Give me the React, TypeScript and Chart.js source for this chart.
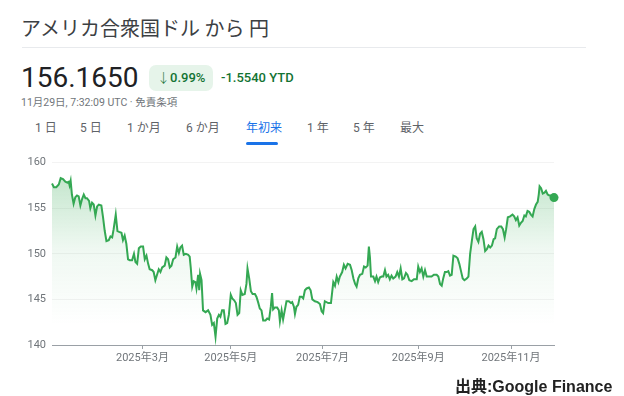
import React, { useEffect, useRef } from "react";
import { Chart, registerables } from "chart.js";

Chart.register(...registerables);

// trading-session index since 2 Jan 2025 (approximate)
const sessionIdx = [
  0.0, 0.9, 2.0, 3.2, 4.1, 5.2, 6.3, 7.2, 7.9, 8.3, 8.8, 9.4, 10.2, 11.0, 11.8, 12.6, 13.4, 14.2, 15.0, 15.8,
  16.5, 17.5, 18.1, 18.9, 19.7, 20.5, 21.3, 22.1, 23.3, 24.1, 24.9, 25.7, 26.8, 27.6, 28.4, 29.1, 30.1, 30.9, 31.7, 32.8,
  33.5, 34.3, 35.1, 35.9, 36.7, 37.8, 38.7, 39.4, 40.2, 41.0, 41.9, 43.0, 43.8, 44.6, 45.4, 46.1, 47.3, 48.0, 48.8, 49.6,
  50.4, 51.2, 52.0, 53.2, 54.0, 54.8, 55.6, 56.4, 57.2, 58.3, 59.1, 59.9, 60.6, 61.4, 62.2, 63.2, 64.3, 65.0, 65.5, 66.2,
  66.9, 67.7, 68.2, 69.0, 69.5, 69.9, 70.6, 71.3, 72.5, 73.7, 74.8, 75.6, 76.4, 77.2, 78.0, 78.8, 79.5, 80.3, 81.1, 81.9,
  82.7, 83.5, 84.4, 85.1, 86.0, 86.8, 87.6, 88.4, 89.1, 89.9, 91.0, 91.8, 92.3, 93.1, 93.9, 94.7, 95.8, 96.5, 97.3, 98.1,
  98.9, 99.7, 100.8, 101.6, 102.5, 103.3, 103.9, 104.4, 105.2, 106.3, 107.1, 107.6, 108.4, 109.1, 109.9, 110.7, 111.8, 112.8, 113.4, 114.2,
  114.7, 115.4, 116.2, 117.0, 117.8, 118.6, 119.4, 120.2, 121.3, 122.1, 122.9, 124.1, 125.4, 126.5, 127.3, 128.0, 128.8, 130.4, 131.7, 132.8,
  133.6, 134.4, 135.2, 135.9, 137.0, 137.8, 138.6, 139.6, 140.7, 141.5, 142.3, 143.1, 143.8, 144.6, 145.4, 146.5, 147.3, 148.1, 149.0, 149.6,
  150.1, 150.6, 151.7, 152.5, 153.2, 154.0, 154.8, 155.6, 156.4, 157.2, 157.9, 158.7, 159.5, 160.3, 161.1, 162.2, 163.0, 163.8, 164.6, 165.4,
  166.2, 167.1, 167.8, 168.7, 169.8, 170.9, 172.2, 172.9, 173.7, 174.5, 175.3, 176.1, 176.9, 177.7, 179.2, 180.3, 181.6, 182.4, 183.2, 184.0,
  184.7, 185.5, 186.3, 187.1, 187.9, 188.7, 189.5, 190.6, 191.5, 192.3, 193.1, 193.9, 194.7, 195.8, 196.6, 197.4, 198.2, 199.0, 199.8, 200.5,
  201.3, 202.1, 202.9, 203.7, 204.5, 205.3, 206.1, 206.9, 207.7, 208.5, 209.2, 210.0, 211.1, 212.1, 212.9, 213.7, 214.4, 215.2, 216.3, 217.4,
  218.2, 219.0, 219.8, 220.6, 221.4, 222.2, 223.0, 223.7, 224.5, 225.3, 226.1, 226.9, 227.7, 228.5, 229.3, 229.8, 230.2, 230.9, 231.7, 232.5,
  233.2, 234.0, 234.8, 235.6, 236.4, 237.0,
];

// USD/JPY close
const usdJpy = [
  157.7, 157.3, 157.3, 157.6, 158.3, 158.2, 157.9, 157.8, 157.9, 157.5, 158.0, 156.5, 155.5, 156.2, 156.4, 156.3, 155.3, 156.0, 156.5, 156.1,
  156.1, 155.8, 155.0, 155.6, 155.4, 154.2, 155.2, 155.4, 155.3, 154.0, 152.5, 151.4, 151.5, 151.9, 151.8, 152.7, 154.3, 152.5, 152.4, 152.3,
  151.5, 152.0, 151.1, 149.4, 149.3, 149.3, 150.0, 149.1, 148.9, 150.6, 150.8, 150.8, 149.4, 149.8, 148.9, 148.3, 148.2, 148.0, 147.1, 147.7,
  148.3, 148.0, 148.5, 148.7, 149.6, 149.4, 148.5, 148.7, 149.4, 149.6, 150.8, 150.1, 150.7, 150.9, 149.9, 150.0, 149.9, 149.7, 148.5, 146.4,
  147.0, 146.9, 146.2, 147.7, 146.0, 147.8, 147.1, 143.8, 143.6, 143.8, 143.3, 142.2, 142.4, 140.9, 142.9, 143.3, 143.1, 143.8, 143.8, 142.3,
  142.4, 143.3, 145.5, 145.1, 144.9, 144.6, 143.3, 143.5, 146.0, 145.5, 145.6, 146.7, 148.4, 147.3, 145.9, 145.6, 145.6, 145.3, 144.7, 144.0,
  143.8, 142.7, 142.7, 142.9, 142.8, 144.2, 145.7, 143.9, 144.1, 144.1, 143.8, 142.6, 143.8, 142.8, 143.8, 144.8, 144.8, 144.6, 144.7, 144.2,
  143.4, 144.2, 144.4, 145.3, 145.3, 145.1, 146.0, 146.2, 146.3, 146.0, 145.0, 144.8, 144.7, 144.5, 143.7, 143.5, 144.8, 144.6, 144.6, 146.9,
  146.5, 147.5, 146.9, 147.5, 148.0, 148.8, 148.4, 148.9, 148.8, 148.2, 147.3, 146.7, 146.4, 147.3, 147.7, 147.8, 148.6, 148.5, 148.7, 150.8,
  149.6, 147.5, 147.5, 147.0, 147.5, 146.9, 147.4, 147.5, 147.5, 148.2, 147.5, 147.7, 147.2, 147.6, 147.3, 147.5, 148.0, 147.5, 148.4, 147.2,
  147.3, 147.9, 147.7, 147.1, 147.0, 147.2, 147.2, 148.6, 148.0, 148.4, 147.5, 148.2, 147.5, 147.5, 147.5, 147.7, 147.7, 147.5, 146.7, 146.5,
  147.3, 148.0, 148.0, 148.1, 147.6, 147.7, 149.8, 149.7, 149.5, 148.9, 148.1, 147.3, 147.1, 147.3, 147.5, 150.0, 151.4, 152.7, 153.0, 151.7,
  151.3, 152.2, 152.4, 151.6, 150.3, 150.5, 150.9, 150.7, 150.9, 151.6, 151.7, 152.7, 153.0, 153.0, 152.7, 151.8, 152.7, 154.0, 154.1, 154.3,
  154.1, 153.7, 154.0, 153.1, 153.4, 153.6, 154.2, 154.1, 154.7, 154.6, 154.3, 154.1, 154.9, 155.4, 155.7, 156.5, 157.4, 157.2, 156.6, 156.7,
  156.9, 156.5, 156.4, 156.4, 156.3, 156.165,
];

const monthTickIdx = [42.7, 84.4, 127.7, 172.9, 216.7];
const monthTickLabels = ["2025年3月", "2025年5月", "2025年7月", "2025年9月", "2025年11月"];
const yTickValues = [140, 145, 150, 155, 160];
const rangeTabs = ["1 日", "5 日", "1 か月", "6 か月", "年初来", "1 年", "5 年", "最大"];
const rangeTabX = [35, 80, 127, 186, 246, 307, 353, 400];

const FONT = "Roboto, 'Noto Sans CJK JP', sans-serif";
const GREEN = "#34a853";

function App() {
  const canvasRef = useRef<HTMLCanvasElement | null>(null);

  useEffect(() => {
    const canvas = canvasRef.current;
    if (!canvas) return;
    const points = sessionIdx.map((x, i) => ({ x, y: usdJpy[i] }));
    const last = points.length - 1;
    const chart = new Chart(canvas, {
      type: "line",
      data: {
        datasets: [
          {
            data: points,
            borderColor: GREEN,
            borderWidth: 2,
            tension: 0,
            fill: "start",
            clip: false as any,
            backgroundColor: (ctx: any) => {
              const area = ctx.chart.chartArea;
              if (!area) return "rgba(52,168,83,0.1)";
              const g = ctx.chart.ctx.createLinearGradient(0, area.top + 10, 0, area.bottom - 20);
              g.addColorStop(0, "rgba(52,168,83,0.30)");
              g.addColorStop(0.5, "rgba(52,168,83,0.08)");
              g.addColorStop(1, "rgba(52,168,83,0)");
              return g;
            },
            pointRadius: (ctx: any) => (ctx.dataIndex === last ? 4.5 : 0),
            pointHoverRadius: 0,
            pointBackgroundColor: GREEN,
            pointBorderWidth: 0,
          },
        ],
      },
      options: {
        responsive: false,
        animation: false,
        layout: { padding: { top: 11, right: 26, left: 0, bottom: 0 } },
        plugins: { legend: { display: false }, tooltip: { enabled: false } },
        scales: {
          x: {
            type: "linear",
            min: 0,
            max: 237,
            afterFit: (s: any) => {
              s.height = 35;
            },
            afterBuildTicks: (s: any) => {
              s.ticks = monthTickIdx.map((v) => ({ value: v }));
            },
            ticks: {
              autoSkip: false,
              maxRotation: 0,
              padding: 3,
              color: "#70757a",
              font: { family: FONT, size: 11 },
              callback: (_v: any, i: number) => monthTickLabels[i],
            },
            grid: { drawOnChartArea: false, drawTicks: true, tickLength: 4, color: "#9aa0a6" },
            border: { display: true, color: "#9aa0a6", width: 1 },
          },
          y: {
            min: 140,
            max: 160,
            afterFit: (s: any) => {
              s.width = 52;
            },
            afterBuildTicks: (s: any) => {
              s.ticks = yTickValues.map((v) => ({ value: v }));
            },
            ticks: {
              padding: 6,
              color: "#70757a",
              font: { family: FONT, size: 11 },
            },
            grid: { drawTicks: false, color: "#f3f3f3" },
            border: { display: false },
          },
        },
      },
    });
    return () => chart.destroy();
  }, []);

  const abs = (left: number, top: number, extra: React.CSSProperties = {}): React.CSSProperties => ({
    position: "absolute",
    left,
    top,
    whiteSpace: "nowrap",
    fontFamily: FONT,
    ...extra,
  });

  return (
    <div style={{ position: "fixed", left: 0, top: 0, width: 624, height: 396, background: "#fff", overflow: "hidden" }}>
      <div style={abs(21, 15, { fontSize: 20, color: "#3c4043", lineHeight: "26px", fontFamily: "'Noto Sans CJK JP', sans-serif" })}>
        アメリカ合衆国ドル から 円
      </div>
      <div style={{ position: "absolute", left: 22, top: 47, width: 564, height: 1, background: "#e8eaed" }} />
      <div style={abs(21, 60, { fontSize: 28, color: "#202124", lineHeight: "36px" })}>156.1650</div>
      <div
        style={{
          position: "absolute",
          left: 149,
          top: 65,
          width: 64,
          height: 26,
          borderRadius: 7,
          background: "#e6f4ea",
        }}
      />
      <div style={abs(157, 69, { fontSize: 13, color: "#137333", fontWeight: 500, lineHeight: "18px" })}>
        <span style={{ fontWeight: 300 }}>↓</span>0.99%
      </div>
      <div style={abs(221, 69, { fontSize: 13, color: "#137333", fontWeight: 500, lineHeight: "18px" })}>-1.5540 YTD</div>
      <div style={abs(21, 96, { fontSize: 10.5, color: "#70757a", lineHeight: "14px" })}>
        11月29日, 7:32:09 UTC · 免責条項
      </div>
      {rangeTabs.map((t, i) => (
        <div
          key={t}
          style={abs(rangeTabX[i], 120, {
            fontSize: 12,
            lineHeight: "16px",
            color: t === "年初来" ? "#1a73e8" : "#5f6368",
          })}
        >
          {t}
        </div>
      ))}
      <div style={{ position: "absolute", left: 246, top: 142, width: 32, height: 3, borderRadius: 2, background: "#1a73e8" }} />
      <canvas ref={canvasRef} width={580} height={230} style={{ position: "absolute", left: 0, top: 150, width: 580, height: 230 }} />
      <div
        style={abs(455, 377, {
          fontSize: 16,
          fontWeight: 700,
          color: "#222",
          lineHeight: "20px",
          fontFamily: "'Liberation Sans', 'Noto Sans CJK JP', sans-serif",
        })}
      >
        出典:Google Finance
      </div>
    </div>
  );
}

export default App;
